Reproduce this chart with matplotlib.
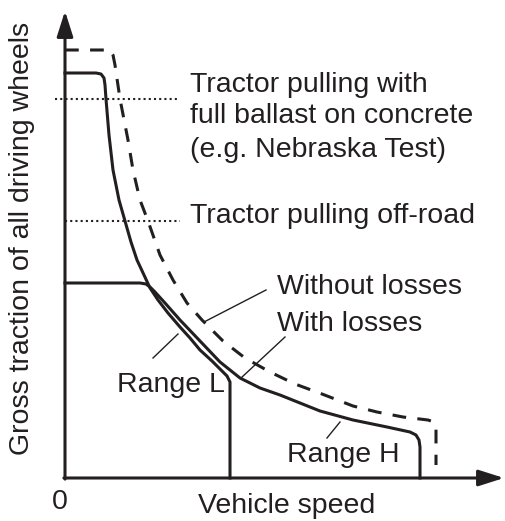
import matplotlib
matplotlib.use("Agg")
import matplotlib.pyplot as plt

plt.rcParams['font.family'] = ['Liberation Sans', 'DejaVu Sans']

INK = '#231f20'

# curves (speed, gross traction), arbitrary units
dashed_speed = [0, 45, 48, 50, 55, 63, 68, 75, 83, 95, 108, 122, 137, 158, 180, 205, 230,
                257, 288, 312, 338, 363, 369, 371, 371]
dashed_force = [428, 428, 423, 413, 379, 338, 308, 278, 257, 223, 198, 175, 158, 137, 120,
                106, 94, 84, 72, 66, 61, 58, 56, 50, 13]

range_l_speed = [0, 31, 36, 39, 40, 41, 44, 48, 54, 60, 66, 72, 79, 85, 93, 103, 115, 125,
                 135, 147, 157, 162, 165, 165]
range_l_force = [405, 405, 404, 400, 393, 379, 343, 308, 278, 257, 236, 218, 203, 190, 178,
                 165, 151, 140, 128, 117, 107, 102, 96, 0]

range_h_speed = [0, 75, 81, 85, 90, 100, 115, 135, 155, 175, 195, 215, 235, 255, 288, 322,
                 345, 351, 354, 355, 355]
range_h_force = [195, 195, 194, 191, 186, 175, 158, 137, 116, 100, 90, 83, 75, 67, 58, 51,
                 46, 43, 38, 31, 0]

ballast_level = 379
offroad_level = 257


def main():
    fig = plt.figure(figsize=(5.05, 5.21), dpi=100)
    ax = fig.add_axes([0, 0, 1, 1])
    ax.set_xlim(-65, 440)
    ax.set_ylim(-43, 478)
    ax.axis('off')

    lw = 2.2
    # axes with arrow heads
    arrow = dict(arrowstyle='-|>,head_length=1.1,head_width=0.35', lw=lw, color=INK,
                 shrinkA=0, shrinkB=0, mutation_scale=14)
    ax.annotate('', xy=(0, 467), xytext=(0, -1.1), arrowprops=arrow)
    ax.annotate('', xy=(439, 0), xytext=(-1.1, 0), arrowprops=arrow)

    # reference levels
    ax.plot([-10, 115], [ballast_level, ballast_level], color=INK, lw=1.5,
            linestyle=(0, (1, 1.5)))
    ax.plot([0, 115], [offroad_level, offroad_level], color=INK, lw=1.5,
            linestyle=(0, (1, 1.5)))

    # curves
    ax.plot(dashed_speed, dashed_force, color=INK, lw=lw, linestyle=(0, (4.5, 3.7)),
            solid_joinstyle='round')
    ax.plot(range_l_speed, range_l_force, color=INK, lw=lw, solid_joinstyle='round')
    ax.plot(range_h_speed, range_h_force, color=INK, lw=lw, solid_joinstyle='round')

    # leader lines
    lead = dict(color=INK, lw=1.0)
    ax.plot([201, 139], [188, 156], **lead)
    ax.plot([220, 176], [141, 100], **lead)
    ax.plot([88, 113], [120, 144], **lead)
    ax.plot([262, 275], [40, 56], **lead)

    fs = 20.5
    tk = dict(fontsize=fs, color=INK, va='baseline')
    ax.text(125, 386, 'Tractor pulling with', **tk)
    ax.text(125, 355, 'full ballast on concrete', **tk)
    ax.text(125, 321, '(e.g. Nebraska Test)', **tk)
    ax.text(125, 255, 'Tractor pulling off-road', **tk)
    ax.text(212, 184, 'Without losses', **tk)
    ax.text(212, 147, 'With losses', **tk)
    ax.text(52, 86, 'Range L', **tk)
    ax.text(222, 16, 'Range H', **tk)
    ax.text(-5, -31, '0', ha='center', **tk)
    ax.text(222, -35, 'Vehicle speed', ha='center', **tk)
    ax.text(-43, 240, 'Gross traction of all driving wheels', rotation=90,
            ha='center', va='center', fontsize=fs, color=INK)

    fig.savefig('out.png', dpi=100)


if __name__ == "__main__":
    main()
